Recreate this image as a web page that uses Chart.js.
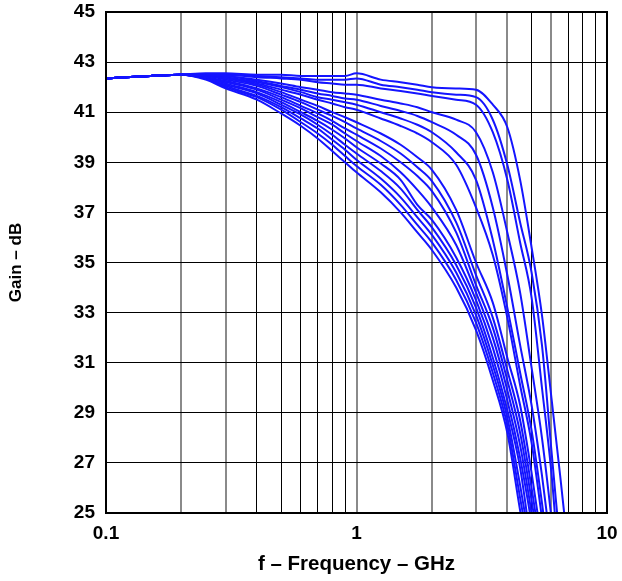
<!DOCTYPE html>
<html>
<head>
<meta charset="utf-8">
<script src="https://cdn.jsdelivr.net/npm/chart.js@4.4.1/dist/chart.umd.min.js"></script>
<style>
  html, body { margin: 0; padding: 0; background: #fff; }
  #wrap { width: 622px; height: 581px; }
</style>
</head>
<body>
<div id="wrap"><canvas id="gainChart" width="622" height="581"></canvas></div>
<script>
// frequency grid, GHz
const freq = [0.1, 0.15, 0.2, 0.25, 0.3, 0.4, 0.5, 0.6, 0.7, 0.8, 0.9, 1, 1.25, 1.5, 1.75, 2, 2.5, 3, 3.5, 4, 4.5, 5, 5.5, 6, 6.5, 7];

// gain curves, dB
const gainA1 = [42.35, 42.45, 42.5, 42.55, 42.55, 42.5, 42.5, 42.45, 42.45, 42.45, 42.45, 42.55, 42.3, 42.2, 42.1, 42.0, 41.95, 41.9, 41.3, 40.4, 38.3, 35.6, 32.9, 29.6, 26.5, 23.5];
const gainA2 = [42.35, 42.45, 42.5, 42.5, 42.5, 42.45, 42.4, 42.35, 42.3, 42.3, 42.3, 42.35, 42.1, 42.0, 41.9, 41.8, 41.7, 41.6, 40.7, 38.9, 36.6, 34.6, 31.7, 27.5, 23.8, 21.5];
const gainA3 = [42.35, 42.45, 42.5, 42.5, 42.5, 42.4, 42.35, 42.3, 42.2, 42.15, 42.1, 42.1, 41.95, 41.85, 41.75, 41.65, 41.5, 41.3, 40.2, 38.3, 35.8, 33.6, 30.0, 26.6, 22.5, 20.5];
const gainB1 = [42.35, 42.45, 42.5, 42.5, 42.45, 42.3, 42.15, 42.0, 41.9, 41.8, 41.75, 41.7, 41.5, 41.35, 41.2, 41.0, 40.7, 40.2, 38.6, 36.2, 33.8, 30.8, 28.0, 24.8, 21.5, 20];
const gainB2 = [42.35, 42.45, 42.5, 42.5, 42.45, 42.25, 42.05, 41.9, 41.75, 41.65, 41.55, 41.5, 41.25, 41.05, 40.85, 40.6, 40.1, 39.3, 37.2, 34.5, 31.7, 29.3, 26.5, 23.5, 21, 19];
const gainB3 = [42.35, 42.45, 42.5, 42.5, 42.4, 42.2, 42.0, 41.8, 41.6, 41.5, 41.4, 41.3, 41.0, 40.75, 40.5, 40.2, 39.4, 38.3, 35.9, 33.2, 30.6, 28.3, 25.4, 22.5, 20, 18];
const gainB4 = [42.35, 42.45, 42.5, 42.45, 42.35, 42.15, 41.9, 41.7, 41.5, 41.35, 41.2, 41.1, 40.75, 40.45, 40.15, 39.8, 38.9, 37.2, 35.3, 32.8, 30.1, 27.8, 24.8, 22, 19.5, 18];
const gainC1 = [42.35, 42.45, 42.5, 42.45, 42.35, 42.1, 41.8, 41.5, 41.25, 41.0, 40.8, 40.6, 40.15, 39.7, 39.2, 38.7, 37.1, 35.0, 33.4, 31.2, 29.3, 26.6, 23.8, 21, 19, 18];
const gainC2 = [42.35, 42.45, 42.5, 42.45, 42.3, 42.05, 41.7, 41.4, 41.1, 40.85, 40.6, 40.35, 39.85, 39.35, 38.8, 38.25, 36.6, 34.5, 32.8, 30.7, 28.7, 26.0, 23.3, 21, 19, 18];
const gainC3 = [42.35, 42.45, 42.5, 42.4, 42.25, 41.95, 41.6, 41.25, 40.95, 40.65, 40.35, 40.1, 39.55, 39.0, 38.45, 37.85, 36.2, 34.1, 32.4, 30.3, 28.2, 25.5, 22.8, 20.5, 19, 18];
const gainC4 = [42.35, 42.45, 42.5, 42.4, 42.2, 41.9, 41.5, 41.15, 40.8, 40.5, 40.15, 39.85, 39.25, 38.6, 37.9, 37.2, 35.7, 33.8, 32.0, 29.9, 27.7, 25.0, 22.3, 20, 19, 18];
const gainC5 = [42.35, 42.45, 42.5, 42.4, 42.15, 41.8, 41.4, 41.0, 40.65, 40.3, 39.95, 39.6, 38.95, 38.3, 37.3, 36.7, 35.2, 33.5, 31.6, 29.5, 27.2, 24.6, 22, 20, 19, 18];
const gainC6 = [42.35, 42.45, 42.5, 42.35, 42.1, 41.75, 41.3, 40.9, 40.5, 40.1, 39.7, 39.35, 38.65, 37.95, 37.1, 36.4, 34.9, 33.2, 31.2, 29.1, 26.8, 23.6, 21, 19.5, 18.5, 18];
const gainC7 = [42.35, 42.45, 42.5, 42.35, 42.05, 41.65, 41.2, 40.75, 40.35, 39.9, 39.5, 39.1, 38.35, 37.6, 36.8, 36.1, 34.6, 32.9, 30.9, 28.8, 26.1, 23.4, 21, 19.5, 18.5, 18];
const gainC8 = [42.35, 42.45, 42.5, 42.35, 42.0, 41.6, 41.1, 40.6, 40.15, 39.7, 39.25, 38.85, 38.1, 37.3, 36.5, 35.8, 34.3, 32.6, 30.6, 28.5, 25.6, 23, 21, 19.5, 18.5, 18];
const gainC9 = [42.35, 42.45, 42.5, 42.3, 41.95, 41.5, 40.95, 40.45, 39.95, 39.45, 39.0, 38.6, 37.8, 37.0, 36.2, 35.5, 34.0, 32.3, 30.3, 28.2, 25.1, 22.5, 20.5, 19.5, 18.5, 18];

const curves = [gainA1, gainA2, gainA3, gainB1, gainB2, gainB3, gainB4,
  gainC1, gainC2, gainC3, gainC4, gainC5, gainC6, gainC7, gainC8, gainC9];

const xTickValues = [0.1, 0.2, 0.3, 0.4, 0.5, 0.6, 0.7, 0.8, 0.9, 1, 2, 3, 4, 5, 6, 7, 8, 9, 10];
const xTickLabels = { 0.1: "0.1", 1: "1", 10: "10" };
const greyGrid = [0.2, 0.3, 1, 2, 3, 4, 6];

const fontFamily = "'Liberation Sans', Arial, sans-serif";
Chart.defaults.color = "#000";

const frameBox = {
  id: "frameBox",
  afterDraw(chart) {
    const { ctx, chartArea } = chart;
    ctx.save();
    ctx.strokeStyle = "#000";
    ctx.lineWidth = 2;
    ctx.strokeRect(chartArea.left, chartArea.top, chartArea.right - chartArea.left, chartArea.bottom - chartArea.top);
    ctx.restore();
  }
};

const datasets = curves.map((g) => ({
  data: freq.map((f, i) => ({ x: f, y: g[i] })),
  borderColor: "rgb(20, 20, 255)",
  borderWidth: 2,
  pointRadius: 0,
  cubicInterpolationMode: "monotone",
  fill: false,
  clip: 0
}));

new Chart(document.getElementById("gainChart"), {
  type: "line",
  data: { datasets },
  options: {
    responsive: false,
    animation: false,
    layout: { padding: { top: 12, right: 15, left: 0, bottom: 0 } },
    plugins: { legend: { display: false }, tooltip: { enabled: false } },
    scales: {
      x: {
        type: "logarithmic",
        min: 0.1,
        max: 10,
        afterBuildTicks: (scale) => {
          scale.ticks = xTickValues.map((v) => ({ value: v }));
        },
        afterFit: (scale) => {
          scale.height = 68;
          scale.paddingLeft = 0;
          scale.paddingRight = 0;
        },
        ticks: {
          autoSkip: false,
          maxRotation: 0,
          padding: 9,
          font: { family: fontFamily, size: 19, weight: "bold" },
          callback: (v) => xTickLabels[v] || ""
        },
        grid: {
          drawTicks: false,
          color: (c) => (greyGrid.includes(c.tick && c.tick.value) ? "#8a8a8a" : "#000"),
          lineWidth: (c) => (greyGrid.includes(c.tick && c.tick.value) ? 2 : 1)
        },
        border: { display: false },
        title: {
          display: true,
          text: "f – Frequency – GHz",
          font: { family: fontFamily, size: 20.5, weight: "bold" },
          padding: { top: 4, bottom: 4 }
        }
      },
      y: {
        min: 25,
        max: 45,
        afterFit: (scale) => {
          scale.width = 106;
          scale.paddingTop = 0;
          scale.paddingBottom = 0;
        },
        ticks: {
          stepSize: 2,
          padding: 11,
          font: { family: fontFamily, size: 19, weight: "bold" }
        },
        grid: { drawTicks: false, color: "#000", lineWidth: 1 },
        border: { display: false },
        title: {
          display: true,
          text: "Gain – dB",
          font: { family: fontFamily, size: 17, weight: "bold" },
          padding: { top: 6, bottom: 4 }
        }
      }
    }
  },
  plugins: [frameBox]
});
</script>
</body>
</html>
